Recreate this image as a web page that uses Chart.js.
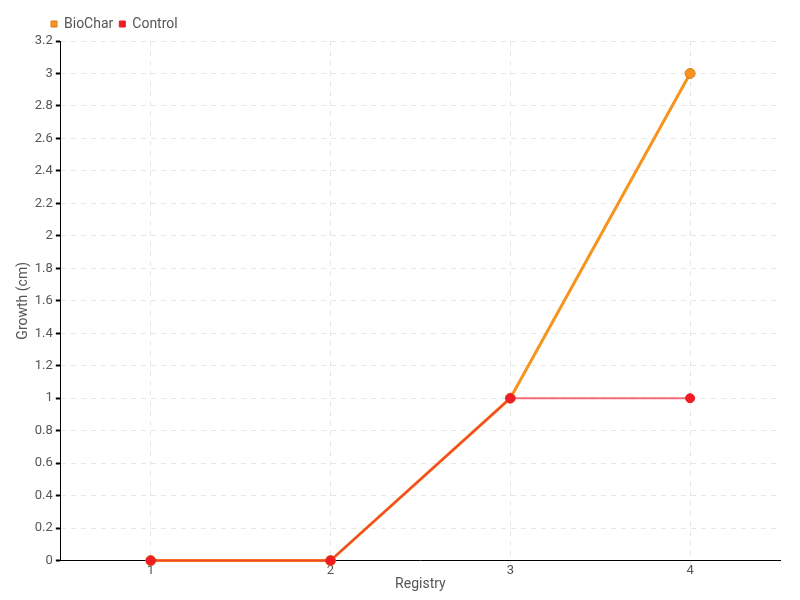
<!DOCTYPE html>
<html>
<head>
<meta charset="utf-8">
<script src="https://cdn.jsdelivr.net/npm/chart.js@4.4.0/dist/chart.umd.min.js"></script>
<style>
  html, body { margin: 0; padding: 0; background: #fff; }
  #wrap { width: 800px; height: 600px; }
</style>
</head>
<body>
<div id="wrap"><canvas id="lineChart"></canvas></div>
<script>
const registry = [1, 2, 3, 4];
const biocharGrowth = [0, 0, 1, 3];
const controlGrowth = [0, 0, 1, 1];

const toPoints = (vals) => vals.map((v, i) => ({ x: registry[i], y: v }));

Chart.defaults.font.family = "Roboto, sans-serif";
Chart.defaults.font.size = 13;
Chart.defaults.color = "#555";

// push the legend in line with the plot, like the original
const legendShift = {
    id: "legendShift",
    afterLayout(chart) {
        chart.legend.left += 30;
        chart.legend.right += 30;
    },
};

const ctx = document.getElementById("lineChart");

new Chart(ctx, {
    type: "line",
    data: {
        datasets: [
        {
            label: "BioChar",
            data: toPoints(biocharGrowth),
            borderColor: "#f7941d",
            backgroundColor: "#f7941d",
            pointBackgroundColor: "#f7941d",
            pointBorderColor: "#d9791a",
            borderWidth: 3,
            pointRadius: 5,
            pointBorderWidth: 1,
            clip: false,
            order: 2,
        },
        {
            label: "Control",
            data: toPoints(controlGrowth),
            borderColor: "rgba(240, 30, 50, 0.65)",
            backgroundColor: "#ee1c25",
            pointBackgroundColor: "#ee1c25",
            pointBorderColor: "#ee1c25",
            borderWidth: 2,
            pointRadius: 4.5,
            pointBorderWidth: 1,
            clip: false,
            order: 1,
        },
        ],
    },
    plugins: [legendShift],
    options: {
        responsive: true,
        maintainAspectRatio: false,
        animation: false,
        layout: { padding: { left: 15, right: 20, top: 11, bottom: 7 } },
        plugins: {
            legend: {
                align: "start",
                labels: {
                    usePointStyle: true,
                    pointStyle: "rect",
                    boxWidth: 6,
                    boxHeight: 6,
                    padding: 6,
                    font: { size: 14 },
                    sort: (a, b) => a.datasetIndex - b.datasetIndex,
                },
            },
            tooltip: { enabled: false },
        },
        scales: {
            x: {
                type: "linear",
                min: 0.5,
                max: 4.5,
                afterBuildTicks: (axis) => {
                    axis.ticks = registry.map((v) => ({ value: v }));
                },
                ticks: { padding: -2, autoSkip: false },
                grid: {
                    color: "#e6e6e6",
                    tickLength: 4,
                    tickColor: "#e6e6e6",
                },
                border: { color: "#000", width: 1, dash: [5, 5] },
                title: { display: true, text: "Registry", padding: { top: 0, bottom: 0 }, font: { size: 14 } },
            },
            y: {
                min: 0,
                max: 3.2,
                ticks: {
                    stepSize: 0.2,
                    padding: 3,
                    callback: (v) => String(+v.toFixed(1)),
                },
                grid: {
                    color: "#e6e6e6",
                    tickLength: 5,
                    tickColor: "#000",
                    tickWidth: 2,
                },
                border: { color: "#000", width: 1, dash: [5, 5] },
                title: { display: true, text: "Growth (cm)", padding: { top: 0, bottom: 0 }, font: { size: 14 } },
            },
        },
    },
});
</script>
</body>
</html>
